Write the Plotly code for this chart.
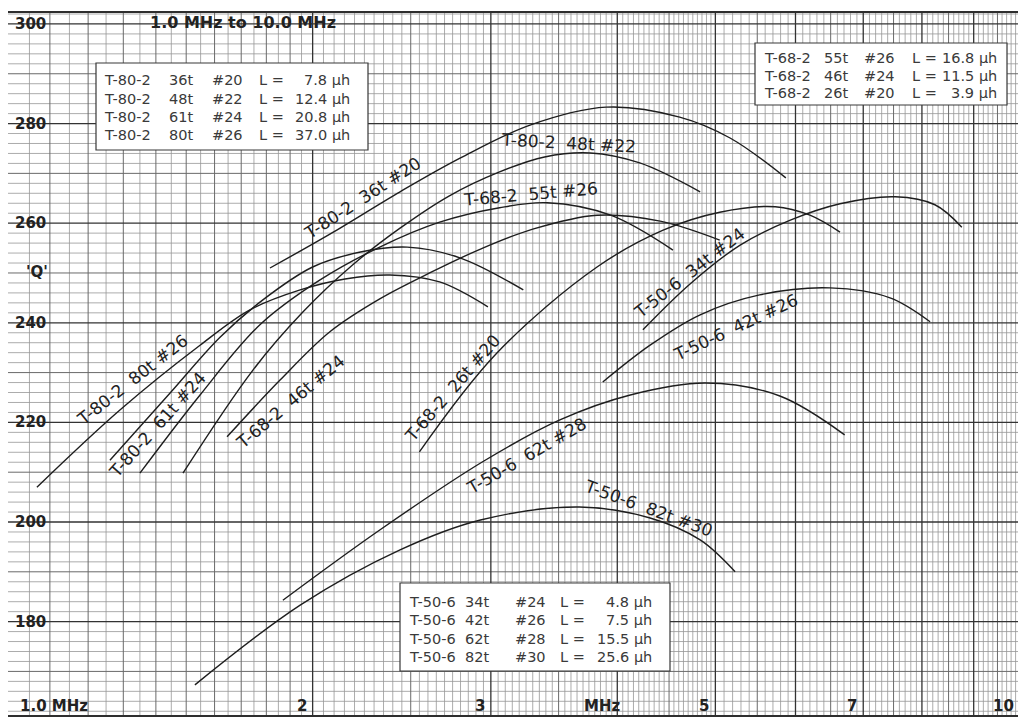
import numpy as np
import plotly.graph_objects as go

FONT = "DejaVu Sans"
INK = "#222222"

t80_36t_f = [1.815, 2.08, 2.44, 2.80, 3.28, 3.90, 4.61, 5.17, 5.87]
t80_36t_q = [251.0, 257.8, 266.3, 273.1, 279.7, 283.3, 281.3, 277.1, 269.1]

t80_48t_f = [1.489, 1.746, 1.957, 2.19, 2.44, 2.73, 3.06, 3.39, 3.76, 4.21, 4.83]
t80_48t_q = [209.8, 230.5, 242.2, 251.6, 259.0, 265.5, 270.3, 273.3, 274.1, 272.1, 266.3]

t80_61t_f = [1.261, 1.446, 1.620, 1.786, 2.00, 2.23, 2.48, 2.80, 3.23]
t80_61t_q = [212.4, 225.9, 237.1, 244.6, 251.2, 254.2, 255.2, 253.0, 246.6]

t80_80t_f = [1.068, 1.290, 1.548, 1.734, 1.944, 2.153, 2.385, 2.67, 2.98]
t80_80t_q = [207.0, 222.5, 235.5, 242.6, 246.6, 248.8, 249.6, 248.2, 243.2]

t68_55t_f = [1.350, 1.548, 1.774, 2.034, 2.33, 2.67, 3.06, 3.41, 3.94, 4.54]
t68_55t_q = [209.8, 225.5, 239.6, 248.6, 255.2, 260.2, 263.1, 264.1, 261.6, 254.6]

t68_46t_f = [1.646, 1.857, 2.08, 2.33, 2.61, 2.93, 3.30, 3.82, 4.41, 5.05]
t68_46t_q = [217.1, 228.5, 238.2, 244.8, 250.0, 254.8, 258.8, 261.6, 260.4, 256.6]

t68_26t_f = [2.55, 3.04, 3.82, 4.44, 5.05, 5.73, 6.20, 6.64]
t68_26t_q = [214.1, 233.9, 251.2, 258.6, 262.2, 263.3, 261.6, 258.2]

t50_34t_f = [4.24, 4.72, 5.29, 5.93, 6.64, 7.53, 8.24, 8.76]
t50_34t_q = [238.6, 247.8, 255.6, 260.6, 263.9, 265.3, 263.7, 259.2]

t50_42t_f = [3.87, 4.31, 4.83, 5.53, 6.49, 7.44, 8.15]
t50_42t_q = [228.1, 235.5, 241.6, 245.6, 247.0, 245.0, 240.2]

t50_62t_f = [1.869, 2.33, 2.95, 3.51, 4.12, 4.89, 5.79, 6.71]
t50_62t_q = [184.3, 198.4, 212.2, 220.5, 225.5, 227.9, 225.3, 217.5]

t50_82t_f = [1.530, 1.944, 2.44, 2.93, 3.67, 4.31, 4.83, 5.23]
t50_82t_q = [167.3, 183.3, 194.4, 200.4, 203.0, 200.8, 196.4, 190.0]

# curve captions and where they sit (MHz, Q, rotation in degrees)
curve_labels = ["T-80-2  36t #20", "T-80-2  48t #22", "T-80-2  61t #24", "T-80-2  80t #26",
                "T-68-2  55t #26", "T-68-2  46t #24", "T-68-2  26t #20",
                "T-50-6  34t #24", "T-50-6  42t #26", "T-50-6  62t #28", "T-50-6  82t #30"]
label_f = [2.24, 3.58, 1.404, 1.326, 3.28, 1.90, 2.75, 4.71, 5.24, 3.25, 4.29]
label_q = [265.1, 276.1, 219.5, 228.5, 265.9, 224.1, 226.9, 250.0, 239.2, 213.3, 202.8]
label_angle = [-33, 3, -48, -38, -5, -40, -49, -38, -25, -30, 20]

# inductance tables
box1_core = ["T-80-2"] * 4
box1_turns = ["36t", "48t", "61t", "80t"]
box1_wire = ["#20", "#22", "#24", "#26"]
box1_uh = [7.8, 12.4, 20.8, 37.0]

box2_core = ["T-68-2"] * 3
box2_turns = ["55t", "46t", "26t"]
box2_wire = ["#26", "#24", "#20"]
box2_uh = [16.8, 11.5, 3.9]

box3_core = ["T-50-6"] * 4
box3_turns = ["34t", "42t", "62t", "82t"]
box3_wire = ["#24", "#26", "#28", "#30"]
box3_uh = [4.8, 7.5, 15.5, 25.6]

y_ticks = [300, 280, 260, 240, 220, 200, 180]
x_ticks = [2, 3, 5, 7, 10]

Q_MIN, Q_MAX = 161.25, 302.2


def px_x(px):
    return (px - 8) / 1012


def px_y(py):
    return (715 - py) / 702


fig = go.Figure()

# graph paper
h_minor = [q for q in range(162, 303, 2) if q % 10]
h_mid = [q for q in range(170, 303, 10) if q % 20]
h_major = list(range(180, 303, 20))
v_minor = list(np.round(np.arange(1.05, 5.0, 0.05), 2)) + list(np.round(np.arange(5.1, 10.0, 0.1), 2))
v_mid = list(np.round(np.arange(1.1, 2.0, 0.1), 2)) + [2.5, 3.5, 4.5, 5.5, 6.5, 7.5, 8.5, 9.5]
v_major = [2, 3, 4, 5, 6, 7, 8, 9]


def grid(hs, vs, color, width):
    xs, ys = [], []
    for q in hs:
        xs += [1, 10, None]
        ys += [q, q, None]
    for f in vs:
        xs += [f, f, None]
        ys += [Q_MIN, Q_MAX, None]
    fig.add_trace(go.Scatter(x=xs, y=ys, mode="lines", hoverinfo="skip",
                             line=dict(color=color, width=width)))


grid(h_minor, [f for f in v_minor if f not in v_mid and f not in v_major], "#979797", 0.8)
grid(h_mid, v_mid, "#6a6a6a", 1.0)
grid(h_major, v_major, "#333333", 1.3)

curves = [(t80_36t_f, t80_36t_q), (t80_48t_f, t80_48t_q), (t80_61t_f, t80_61t_q),
          (t80_80t_f, t80_80t_q), (t68_55t_f, t68_55t_q), (t68_46t_f, t68_46t_q),
          (t68_26t_f, t68_26t_q), (t50_34t_f, t50_34t_q), (t50_42t_f, t50_42t_q),
          (t50_62t_f, t50_62t_q), (t50_82t_f, t50_82t_q)]
for f, q in curves:
    fig.add_trace(go.Scatter(x=f, y=q, mode="lines",
                             line=dict(color="#1e1e1e", width=1.4, shape="spline", smoothing=1.0)))

ann = []
for text, f, q, a in zip(curve_labels, label_f, label_q, label_angle):
    ann.append(dict(x=np.log10(f), y=q, xref="x", yref="y", text=text.replace("  ", "\u00a0\u00a0"),
                    textangle=a, showarrow=False, xanchor="center", yanchor="middle",
                    font=dict(family=FONT, size=17, color=INK)))

# tick labels drawn inside the frame
bold = dict(family=FONT, size=15, color=INK, weight="bold")
for q in y_ticks:
    ann.append(dict(x=px_x(13), y=q, xref="paper", yref="y", text=str(q), xanchor="left",
                    yanchor="middle", showarrow=False, font=bold))
ann.append(dict(x=px_x(37), y=250.2, xref="paper", yref="y", text="'Q'", xanchor="center",
                yanchor="middle", showarrow=False, font=bold))
ann.append(dict(x=px_x(18), y=px_y(706), xref="paper", yref="paper", text="1.0 MHz", xanchor="left",
                yanchor="middle", showarrow=False, font=bold))
for f in x_ticks:
    ann.append(dict(x=np.log10(f) - 0.004, y=px_y(706), xref="x", yref="paper", text=str(f),
                    xanchor="right", yanchor="middle", showarrow=False, font=bold))
ann.append(dict(x=px_x(602), y=px_y(706), xref="paper", yref="paper", text="MHz", xanchor="center",
                yanchor="middle", showarrow=False, font=bold))
ann.append(dict(x=px_x(243), y=px_y(23), xref="paper", yref="paper", text="1.0 MHz to 10.0 MHz",
                xanchor="center", yanchor="middle", showarrow=False,
                font=dict(family=FONT, size=16, color=INK, weight="bold")))

# the three inductance tables
shapes = []
tables = [
    (box1_core, box1_turns, box1_wire, box1_uh, (96, 63, 368, 150), [102, 167, 210, 257, 352], 80, 18.5),
    (box2_core, box2_turns, box2_wire, box2_uh, (755, 43, 1007, 105), [762, 822, 862, 910, 999], 58, 17.5),
    (box3_core, box3_turns, box3_wire, box3_uh, (400, 583, 670, 671), [407, 463, 513, 558, 654], 602, 18.3),
]
for core, turns, wire, uh, box, cols, row0, step in tables:
    shapes.append(dict(type="rect", xref="paper", yref="paper", x0=px_x(box[0]), x1=px_x(box[2]),
                       y0=px_y(box[3]), y1=px_y(box[1]), fillcolor="white",
                       line=dict(color="#383838", width=1.2), layer="above"))
    for i in range(len(core)):
        y = px_y(row0 + i * step)
        cells = [core[i], turns[i], wire[i], "L =", f"{uh[i]:.1f} \u00b5h"]
        for j, (c, cx) in enumerate(zip(cells, cols)):
            ann.append(dict(x=px_x(cx), y=y, xref="paper", yref="paper", text=c,
                            xanchor="right" if j == 4 else "left", yanchor="middle", showarrow=False,
                            font=dict(family=FONT, size=14.5, color="#3a3a3a")))

fig.update_layout(
    width=1018, height=710,
    margin=dict(l=0, r=6, t=5, b=3),
    paper_bgcolor="white", plot_bgcolor="white",
    showlegend=False,
    annotations=ann, shapes=shapes,
)
fig.update_xaxes(type="log", range=[0, 1], showgrid=False, showticklabels=False, ticks="",
                 zeroline=False, showline=True, mirror=True, linecolor="#2e2e2e", linewidth=2)
fig.update_yaxes(range=[Q_MIN, Q_MAX], showgrid=False, showticklabels=False, ticks="",
                 zeroline=False, showline=True, mirror=True, linecolor="#2e2e2e", linewidth=2)

fig.write_html("out.html")
